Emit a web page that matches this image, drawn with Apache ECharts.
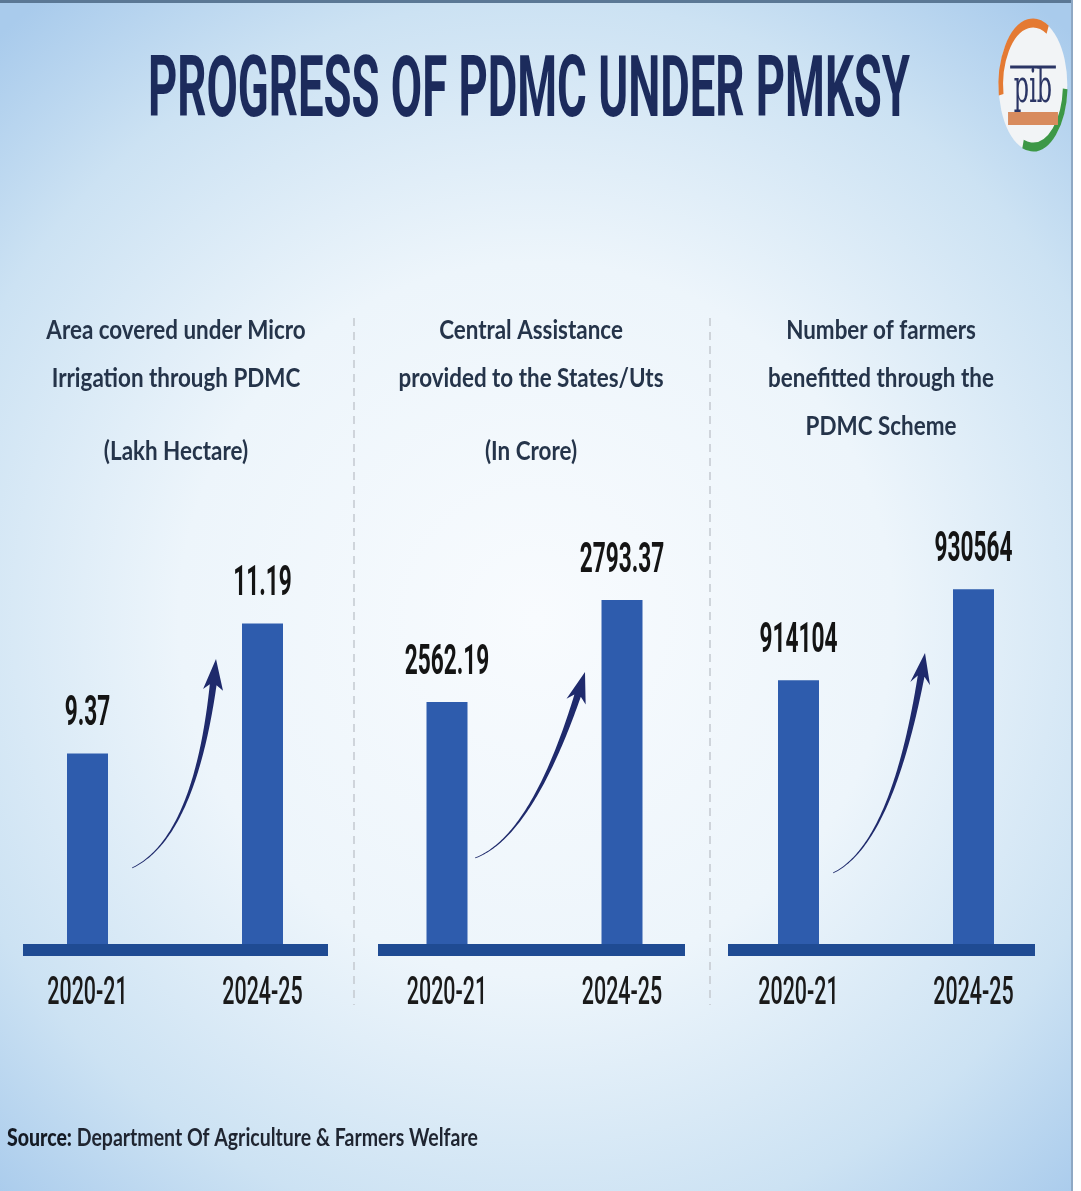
<!DOCTYPE html>
<html><head><meta charset="utf-8">
<script src="https://cdn.jsdelivr.net/npm/echarts@6/dist/echarts.min.js"></script>
<style>html,body{margin:0;padding:0;background:#fff;}#chart{width:1081px;height:1191px;}</style>
</head><body><div id="chart"></div>
<script>
// ---- data ----
const categories = ['2020-21', '2024-25'];
const areaValues = [9.37, 11.19];            // Lakh Hectare
const assistanceValues = [2562.19, 2793.37]; // In Crore
const farmerValues = [914104, 930564];       // farmers
const panelTitles = [
  ['Area covered under Micro', 'Irrigation through PDMC', null, '(Lakh Hectare)'],
  ['Central Assistance', 'provided to the States/Uts', null, '(In Crore)'],
  ['Number of farmers', 'benefitted through the', 'PDMC Scheme', null]
];
const chartTitle = 'PROGRESS OF PDMC UNDER PMKSY';
const sourceLabel = 'Source:';
const sourceText = 'Department Of Agriculture & Farmers Welfare';
// axis ranges (the original is not drawn from zero)
const axisMins = [6.7, 2014, 866400];
const axisMaxs = [12.92, 3020, 946700];

const seriesValues = [areaValues, assistanceValues, farmerValues];

// ---- layout ----
const gridLefts = [0, 359.5, 711];
const gridW = 350, gridTop = 500, gridBottomY = 944, H = 1191;
const panelCenters = [176, 531, 881];
const baseLines = [[23, 328], [378, 685], [728, 1035]];
const arrows = [
  [[132, 868], [199, 836], [216, 659]],
  [[475, 858], [536, 835], [585, 672]],
  [[833, 873], [895, 843], [925, 653]]
];

function arrowPoints(T, C, Hd) {
  const N = 80, pts = [], tans = [];
  for (let k = 0; k <= N; k++) {
    const t = k / N;
    pts.push([(1-t)*(1-t)*T[0] + 2*(1-t)*t*C[0] + t*t*Hd[0], (1-t)*(1-t)*T[1] + 2*(1-t)*t*C[1] + t*t*Hd[1]]);
    const dx = 2*(1-t)*(C[0]-T[0]) + 2*t*(Hd[0]-C[0]);
    const dy = 2*(1-t)*(C[1]-T[1]) + 2*t*(Hd[1]-C[1]);
    const L = Math.hypot(dx, dy);
    tans.push([dx/L, dy/L]);
  }
  const cum = [0];
  for (let k = 1; k <= N; k++) cum.push(cum[k-1] + Math.hypot(pts[k][0]-pts[k-1][0], pts[k][1]-pts[k-1][1]));
  const total = cum[N];
  let kB = N; while (kB > 0 && total - cum[kB] < 22) kB--;
  const d = tans[N], n = [-d[1], d[0]];
  const left = [], right = [];
  for (let k = 0; k <= kB; k++) {
    const w = 0.4 + 3.0 * Math.pow(cum[k] / cum[kB], 1.3);
    const nn = [-tans[k][1], tans[k][0]];
    left.push([pts[k][0] + nn[0]*w, pts[k][1] + nn[1]*w]);
    right.push([pts[k][0] - nn[0]*w, pts[k][1] - nn[1]*w]);
  }
  const back = [Hd[0] - d[0]*31, Hd[1] - d[1]*31];
  const head = [
    [back[0] + n[0]*10, back[1] + n[1]*10],
    Hd,
    [back[0] - n[0]*10, back[1] - n[1]*10]
  ];
  return left.concat(head, right.reverse());
}

const grids = [], xAxes = [], yAxes = [], series = [];
for (let i = 0; i < 3; i++) {
  grids.push({left: gridLefts[i], width: gridW, top: gridTop, bottom: H - gridBottomY});
  xAxes.push({type: 'category', gridIndex: i, data: categories, show: false, boundaryGap: true});
  yAxes.push({type: 'value', gridIndex: i, min: axisMins[i], max: axisMaxs[i], show: false, splitLine: {show: false}});
  const vals = seriesValues[i];
  series.push({
    type: 'bar', xAxisIndex: i, yAxisIndex: i, data: vals, barWidth: 41,
    itemStyle: {color: '#2e5cad'}, z: 3
  });
  const amin = axisMins[i];
  series.push({
    type: 'custom', xAxisIndex: i, yAxisIndex: i, z: 6,
    data: vals.map((v, j) => [j, v]),
    renderItem: function (params, api) {
      const idx = api.value(0), v = api.value(1);
      const top = api.coord([idx, v]);
      const base = api.coord([idx, amin]);
      return {type: 'group', children: [
        {type: 'text', x: top[0], y: top[1] - 18, scaleX: 0.54,
          style: {text: String(vals[params.dataIndex]), fontFamily: 'Roboto', fontWeight: 'bold', fontSize: 42,
            fill: '#141414', align: 'center', verticalAlign: 'bottom'}},
        {type: 'text', x: base[0], y: base[1] + 50, scaleX: 0.55,
          style: {text: categories[idx], fontFamily: 'Roboto', fontWeight: 500, fontSize: 39,
            fill: '#1a1a1a', align: 'center', verticalAlign: 'middle'}}
      ]};
    }
  });
}

const graphics = [];
// background
graphics.push({type: 'rect', z: -100, silent: true, shape: {x: 0, y: 0, width: 1072, height: H},
  style: {fill: {type: 'radial', x: 0.5, y: 0.52, r: 0.74, colorStops: [
    {offset: 0, color: '#f8fbfe'}, {offset: 0.45, color: '#edf5fb'}, {offset: 0.78, color: '#cce2f3'}, {offset: 1, color: '#a9cbec'}]}}});
graphics.push({type: 'rect', z: -90, silent: true, shape: {x: 0, y: 0, width: 1072, height: 3}, style: {fill: '#5b7895'}});
graphics.push({type: 'rect', z: -90, silent: true, shape: {x: 1071, y: 0, width: 2, height: H}, style: {fill: '#8ea8c4'}});
// title
graphics.push({type: 'text', x: 529, y: 95, scaleX: 0.535, z: 10,
  style: {text: chartTitle, fontFamily: 'Roboto', fontWeight: 'bold', fontSize: 85, fill: '#1c2b5c',
    align: 'center', verticalAlign: 'middle'}});
// panel headings
const lineYs = [330, 378, 426, 451];
for (let i = 0; i < 3; i++) {
  panelTitles[i].forEach((t, k) => {
    if (!t) return;
    graphics.push({type: 'text', x: panelCenters[i], y: lineYs[k], scaleX: 0.83, z: 10,
      style: {text: t, fontFamily: 'Lato', fontWeight: 'bold', fontSize: 27, fill: '#25344a',
        align: 'center', verticalAlign: 'middle'}});
  });
  // baseline
  graphics.push({type: 'rect', z: 4, shape: {x: baseLines[i][0], y: gridBottomY, width: baseLines[i][1] - baseLines[i][0], height: 12},
    style: {fill: '#1f4b93'}});
  // arrow
  graphics.push({type: 'polygon', z: 5, shape: {points: arrowPoints(...arrows[i])}, style: {fill: '#1f2a6c'}});
}
// dividers
[354, 710].forEach(x => graphics.push({type: 'line', z: 2, shape: {x1: x, y1: 318, x2: x, y2: 1005},
  style: {stroke: '#c3c9d0', lineWidth: 1.5, lineDash: [8, 6]}}));
// source
graphics.push({type: 'text', x: 7, y: 1138, scaleX: 0.78, z: 10,
  style: {text: '{b|' + sourceLabel + '} ' + sourceText, fontFamily: 'Lato', fontWeight: 'bold', fontSize: 25, fill: '#1f2531',
    align: 'left', verticalAlign: 'middle', rich: {b: {fontFamily: 'Lato', fontWeight: 900, fontSize: 25, fill: '#141a24'}}}});
// logo
graphics.push({type: 'group', x: 1033, y: 85, scaleX: 0.52, z: 10, children: [
  {type: 'circle', shape: {cx: 0, cy: 0, r: 66}, style: {fill: '#f2f4f6'}},
  {type: 'arc', shape: {cx: 0, cy: 0, r: 62, startAngle: Math.PI * 0.95, endAngle: Math.PI * 1.65}, style: {stroke: '#e47a33', lineWidth: 9, fill: 'none'}},
  {type: 'arc', shape: {cx: 0, cy: 0, r: 62, startAngle: Math.PI * 0.02, endAngle: Math.PI * 0.6}, style: {stroke: '#3d9847', lineWidth: 9, fill: 'none'}},
  {type: 'rect', shape: {x: -48, y: 27, width: 96, height: 13}, style: {fill: '#d88b5e'}},
  {type: 'line', shape: {x1: -44, y1: -18, x2: 44, y2: -18}, style: {stroke: '#2b3565', lineWidth: 3}},
  {type: 'text', x: 0, y: 5, style: {text: 'pib', fontFamily: 'DejaVu Serif', fontSize: 46, fill: '#2b3565', align: 'center', verticalAlign: 'middle'}}
]});

const chart = echarts.init(document.getElementById('chart'), null, {renderer: 'canvas'});
chart.setOption({
  animation: false,
  backgroundColor: '#ffffff',
  grid: grids, xAxis: xAxes, yAxis: yAxes, series: series,
  graphic: {elements: graphics}
});
</script></body></html>
